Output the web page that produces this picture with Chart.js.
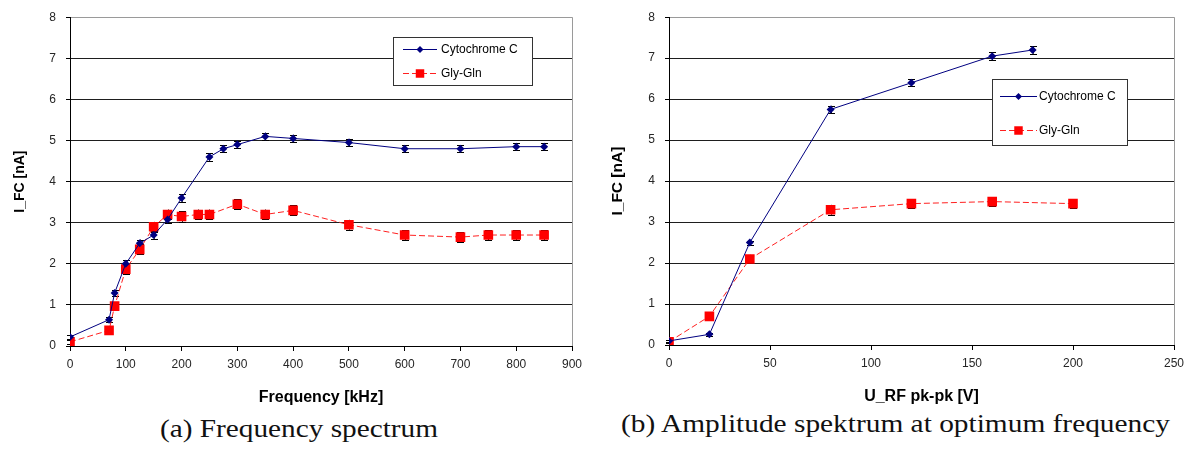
<!DOCTYPE html>
<html><head><meta charset="utf-8">
<script src="https://cdn.jsdelivr.net/npm/chart.js@4.4.1/dist/chart.umd.min.js"></script>
<style>
html,body{margin:0;padding:0;background:#fff;}
#root{position:relative;width:1196px;height:450px;overflow:hidden;background:#fff;}
.wrap{position:absolute;top:0;width:598px;height:410px;}
.cap{position:absolute;white-space:nowrap;font-family:'Liberation Serif','DejaVu Serif',serif;font-size:25px;line-height:25px;color:#111;transform-origin:left top;}
</style></head><body>
<div id="root">
  <div class="wrap" style="left:0"><canvas id="c1"></canvas></div>
  <div class="wrap" style="left:598px"><canvas id="c2"></canvas></div>
  <div class="cap" id="capA" style="left:160px;top:416px">(a) Frequency spectrum</div>
  <div class="cap" id="capB" style="left:621px;top:411px">(b) Amplitude spektrum at optimum frequency</div>
</div>
<script>
// ---- Data: (a) frequency spectrum ----
const freqCyto   = [0, 70, 80, 100, 125, 150, 175, 200, 250, 275, 300, 350, 400, 500, 600, 700, 800, 850];
const cytoFreq   = [0.22, 0.64, 1.29, 2.0, 2.5, 2.7, 3.08, 3.6, 4.6, 4.8, 4.9, 5.1, 5.05, 4.95, 4.8, 4.8, 4.85, 4.85];
const cytoFreqErr= [0.05, 0.06, 0.07, 0.09, 0.09, 0.09, 0.09, 0.09, 0.09, 0.09, 0.09, 0.09, 0.09, 0.09, 0.09, 0.09, 0.09, 0.09];
const freqGly    = [0, 70, 80, 100, 125, 150, 175, 200, 230, 250, 300, 350, 400, 500, 600, 700, 750, 800, 850];
const glyFreq    = [0.1, 0.38, 0.97, 1.87, 2.35, 2.9, 3.2, 3.15, 3.2, 3.2, 3.45, 3.2, 3.3, 2.95, 2.7, 2.65, 2.7, 2.7, 2.7];
const glyFreqErr = [0.05, 0.08, 0.1, 0.12, 0.12, 0.12, 0.12, 0.13, 0.12, 0.12, 0.12, 0.12, 0.12, 0.12, 0.12, 0.12, 0.12, 0.12, 0.12];
const freqTicks  = {min: 0, max: 900, step: 100};

// ---- Data: (b) amplitude spectrum ----
const ampCyto    = [0, 20, 40, 80, 120, 160, 180];
const cytoAmp    = [0.1, 0.26, 2.5, 5.75, 6.4, 7.05, 7.2];
const cytoAmpErr = [0.03, 0.04, 0.05, 0.09, 0.09, 0.09, 0.09];
const ampGly     = [0, 20, 40, 80, 120, 160, 200];
const glyAmp     = [0.08, 0.7, 2.1, 3.3, 3.45, 3.5, 3.45];
const glyAmpErr  = [0.03, 0.04, 0.1, 0.12, 0.1, 0.1, 0.1];
const ampTicks   = {min: 0, max: 250, step: 50};

const yTicks     = {min: 0, max: 8, step: 1};
const seriesNames = ['Cytochrome C', 'Gly-Gln'];

const FONT = "'Liberation Sans', Arial, sans-serif";
const zip = (xs, ys) => xs.map((x, i) => ({x, y: ys[i]}));

function drawMarker(ctx, style, x, y, r, color) {
  ctx.save();
  ctx.fillStyle = color;
  ctx.beginPath();
  if (style === 'rectRot') {
    ctx.moveTo(x, y - r); ctx.lineTo(x + r, y); ctx.lineTo(x, y + r); ctx.lineTo(x - r, y); ctx.closePath();
  } else {
    const h = r * Math.SQRT1_2;
    ctx.rect(x - h, y - h, 2 * h, 2 * h);
  }
  ctx.fill();
  ctx.restore();
}

const errorBars = {
  id: 'errorBars',
  beforeDatasetsDraw(chart) {
    const ctx = chart.ctx, xs = chart.scales.x, ys = chart.scales.y;
    ctx.save();
    ctx.strokeStyle = '#000'; ctx.lineWidth = 1;
    chart.data.datasets.forEach(ds => {
      if (!ds.errors) return;
      ds.data.forEach((p, i) => {
        const e = ds.errors[i];
        if (!e) return;
        const px = Math.round(xs.getPixelForValue(p.x)) + 0.5;
        const y1 = ys.getPixelForValue(p.y - e), y2 = ys.getPixelForValue(p.y + e);
        ctx.beginPath();
        ctx.moveTo(px, y1); ctx.lineTo(px, y2);
        ctx.moveTo(px - 3.5, Math.round(y1) + 0.5); ctx.lineTo(px + 3.5, Math.round(y1) + 0.5);
        ctx.moveTo(px - 3.5, Math.round(y2) + 0.5); ctx.lineTo(px + 3.5, Math.round(y2) + 0.5);
        ctx.stroke();
      });
    });
    ctx.restore();
  }
};

const frame = {
  id: 'frame',
  beforeDatasetsDraw(chart) {
    const {ctx, chartArea: a} = chart;
    ctx.save();
    ctx.strokeStyle = '#9a9a9a'; ctx.lineWidth = 1;
    ctx.beginPath();
    ctx.moveTo(Math.round(a.right) + 0.5, a.top); ctx.lineTo(Math.round(a.right) + 0.5, a.bottom);
    ctx.stroke();
    ctx.restore();
  }
};

const boxLegend = {
  id: 'boxLegend',
  afterDatasetsDraw(chart, args, o) {
    const ctx = chart.ctx;
    ctx.save();
    ctx.fillStyle = '#fff';
    ctx.fillRect(o.x, o.y, o.w, o.h);
    ctx.strokeStyle = '#333'; ctx.lineWidth = 1;
    ctx.strokeRect(o.x + 0.5, o.y + 0.5, o.w, o.h);
    chart.data.datasets.forEach((ds, i) => {
      const yy = o.rows[i] + 0.5;
      ctx.strokeStyle = ds.borderColor; ctx.lineWidth = 1;
      ctx.setLineDash(ds.borderDash || []);
      ctx.beginPath(); ctx.moveTo(o.x0, yy); ctx.lineTo(o.x1, yy); ctx.stroke();
      ctx.setLineDash([]);
      drawMarker(ctx, ds.pointStyle, (o.x0 + o.x1) / 2, yy, ds.legendRadius, ds.backgroundColor);
      ctx.fillStyle = '#000';
      ctx.font = '12px ' + FONT;
      ctx.textBaseline = 'middle';
      ctx.textAlign = 'left';
      ctx.fillText(ds.label, o.textX, yy);
    });
    ctx.restore();
  }
};

function makeChart(id, cfg) {
  const xAxis = {
    type: 'linear', min: cfg.xt.min, max: cfg.xt.max,
    ticks: {stepSize: cfg.xt.step, font: {size: 12, family: FONT}, color: '#262626', padding: 6, maxRotation: 0},
    grid: {drawOnChartArea: false, drawTicks: true, tickLength: 5, color: '#000', lineWidth: 1},
    border: {display: true, color: '#000', width: 1},
    title: {display: true, text: cfg.xTitle, font: {size: 16, weight: 'bold', family: FONT}, color: '#000', padding: {top: 0, bottom: cfg.xTitlePad}},
    afterFit: s => { s.height = cfg.xHeight; }
  };
  const yAxis = {
    type: 'linear', min: yTicks.min, max: yTicks.max,
    ticks: {stepSize: yTicks.step, font: {size: 12, family: FONT}, color: '#262626', padding: 10},
    grid: {drawTicks: true, tickLength: 4, lineWidth: 1, tickColor: '#000',
           color: c => (c.tick && c.tick.value === yTicks.max) ? '#9a9a9a' : '#1e1e1e'},
    border: {display: true, color: '#000', width: 1},
    title: {display: true, text: 'I_FC [nA]', font: {size: cfg.yTitleSize, weight: 'bold', family: FONT}, color: '#000', padding: {top: cfg.yTitlePad, bottom: 0}},
    afterFit: s => { s.width = cfg.yWidth; }
  };
  return new Chart(document.getElementById(id), {
    type: 'scatter',
    data: {datasets: [
      {label: seriesNames[0], data: zip(cfg.x1, cfg.y1), errors: cfg.e1, showLine: true,
       borderColor: '#000080', backgroundColor: '#000080', borderWidth: 1,
       pointStyle: 'rectRot', pointRadius: 4, pointBorderWidth: 0, legendRadius: 3.5},
      {label: seriesNames[1], data: zip(cfg.x2, cfg.y2), errors: cfg.e2, showLine: true,
       borderColor: '#ff2020', backgroundColor: '#ff0000', borderWidth: 1, borderDash: [6, 3],
       pointStyle: 'rect', pointRadius: 6.8, pointBorderWidth: 0, legendRadius: 6}
    ]},
    options: {
      responsive: true, maintainAspectRatio: false, animation: false,
      layout: {padding: cfg.pad},
      plugins: {legend: {display: false}, tooltip: {enabled: false}, boxLegend: cfg.legend},
      scales: {x: xAxis, y: yAxis}
    },
    plugins: [frame, errorBars, boxLegend]
  });
}

makeChart('c1', {
  x1: freqCyto, y1: cytoFreq, e1: cytoFreqErr,
  x2: freqGly, y2: glyFreq, e2: glyFreqErr,
  xt: freqTicks, xTitle: 'Frequency [kHz]',
  pad: {left: 0, top: 14, right: 26, bottom: 0},
  xHeight: 64, yWidth: 70, xTitlePad: 3, yTitleSize: 14, yTitlePad: 12,
  legend: {x: 393, y: 37, w: 139, h: 48, rows: [49, 73], x0: 403, x1: 437, textX: 441}
});

makeChart('c2', {
  x1: ampCyto, y1: cytoAmp, e1: cytoAmpErr,
  x2: ampGly, y2: glyAmp, e2: glyAmpErr,
  xt: ampTicks, xTitle: 'U_RF pk-pk [V]',
  pad: {left: 0, top: 8, right: 22, bottom: 0},
  xHeight: 65, yWidth: 71, xTitlePad: 4, yTitleSize: 15.5, yTitlePad: 10,
  legend: {x: 394, y: 79, w: 135, h: 66, rows: [96, 130], x0: 402, x1: 439, textX: 441}
});

function fit(id, w) {
  const el = document.getElementById(id);
  const r = el.getBoundingClientRect().width;
  el.style.transform = 'scaleX(' + (w / r) + ')';
}
fit('capA', 278);
fit('capB', 549);
</script>
</body></html>
